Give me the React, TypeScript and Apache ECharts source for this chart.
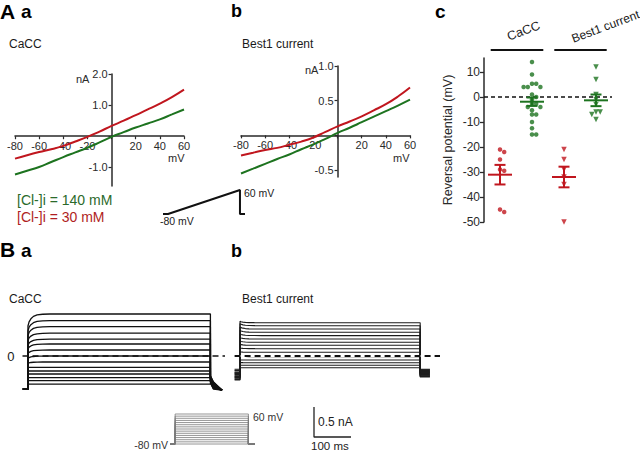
import React, { useEffect, useRef } from "react";
import * as echarts from "echarts";

const FONT = "'Liberation Sans', Arial, Helvetica, sans-serif";
const RED = "#c0161e";
const GREEN = "#1d731f";
const AX = "#2a2a2a";
const INK = "#1a1a1a";

// ---------- A: current–voltage relations (ramp) ----------
const ivVoltage = [-80, -70, -60, -50, -40, -30, -20, -10, 0, 10, 20, 30, 40, 50, 60];
const caccIV140 = [-1.23, -1.11, -0.99, -0.83, -0.67, -0.52, -0.37, -0.2, -0.02, 0.13, 0.28, 0.41, 0.54, 0.7, 0.86];
const caccIV30 = [-0.72, -0.61, -0.51, -0.42, -0.31, -0.17, -0.02, 0.15, 0.33, 0.5, 0.68, 0.86, 1.05, 1.26, 1.5];
const best1IV140 = [-0.55, -0.48, -0.41, -0.34, -0.275, -0.2, -0.13, -0.05, 0.035, 0.11, 0.19, 0.27, 0.35, 0.43, 0.515];
const best1IV30 = [-0.29, -0.25, -0.21, -0.18, -0.135, -0.09, -0.03, 0.05, 0.13, 0.2, 0.275, 0.36, 0.45, 0.56, 0.69];
const caccYTicks = [-1, 0, 1, 2];
const caccYLabels = [-1, 1, 2];
const best1YTicks = [-0.5, 0, 0.5, 1];
const best1YLabels = [-0.5, 0.5, 1];

// ramp protocol (ms, mV)
const rampTime = [-70, 0, 1000, 1000, 1070];
const rampVoltage = [-80, -80, 60, -80, -80];

// ---------- B: current traces (ms, nA) ----------
const stepVoltages = [-80, -70, -60, -50, -40, -30, -20, -10, 0, 10, 20, 30, 40, 50, 60];
const caccHolding = -0.55;
const caccInitial = [-0.47, -0.41, -0.36, -0.3, -0.25, -0.19, -0.12, -0.04, 0.04, 0.12, 0.18, 0.26, 0.34, 0.42, 0.5];
const caccSteady = [-0.47, -0.41, -0.36, -0.3, -0.25, -0.19, -0.1, 0.0, 0.1, 0.2, 0.28, 0.38, 0.49, 0.59, 0.7];
const caccTailStart = [-0.45, -0.44, -0.43, -0.42, -0.41, -0.4, -0.39, -0.38, -0.37, -0.36, -0.35, -0.35, -0.34, -0.34, -0.33];
const caccTailEnd = -0.57;
const activationTimes = [0, 3, 8, 15, 25, 40, 60];
const activationFraction = [0, 0.35, 0.6, 0.8, 0.92, 0.98, 1];

const best1Holding = [-0.4, -0.39, -0.37, -0.36, -0.35, -0.34, -0.33, -0.31, -0.3, -0.29, -0.28, -0.27, -0.25, -0.24, -0.22];
const best1Initial = [-0.195, -0.155, -0.11, -0.065, -0.005, 0.07, 0.135, 0.195, 0.25, 0.31, 0.37, 0.43, 0.485, 0.54, 0.58];
const best1Steady = [-0.195, -0.155, -0.112, -0.067, -0.01, 0.062, 0.122, 0.178, 0.228, 0.283, 0.34, 0.395, 0.45, 0.505, 0.555];
const best1Tail = [-0.35, -0.34, -0.33, -0.32, -0.31, -0.3, -0.29, -0.28, -0.27, -0.27, -0.26, -0.25, -0.24, -0.23, -0.22];

// scale bar (ms, nA)
const scaleBarTime = [0, 0, 100];
const scaleBarCurrent = [0.5, 0, 0];

// ---------- c: reversal potentials (mV) ----------
const revCaccLow = [-21, -22, -25, -29, -29.5, -45, -46];
const revCaccHigh = [14, 9, 5.3, 5.3, 4, 4, 4, 1, 0, -1, -2.7, -2.7, -4, -4, -5.3, -7, -7, -10, -12.5, -15, -15];
const revBest1Low = [-21, -25, -29, -32, -35, -50];
const revBest1High = [12, 7, 1, -1, -3, -6, -6, -7, -9];
const revTicks = [-50, -40, -30, -20, -10, 0, 10];

function meanSem(v: number[]) {
  const n = v.length;
  const m = v.reduce((a, b) => a + b, 0) / n;
  const sd = Math.sqrt(v.reduce((a, b) => a + (b - m) * (b - m), 0) / (n - 1));
  return [m, sd / Math.sqrt(n)];
}

// beeswarm placement: spread points horizontally so they do not overlap
function swarm(values: number[], center: number) {
  const pxY = 2.5, pxX = 32, step = 4.2, minDist = 4.0;
  const order = values.map((_, i) => i).sort((a, b) => values[b] - values[a]);
  const placed: { x: number; y: number }[] = [];
  const out: number[][] = new Array(values.length);
  for (const i of order) {
    const y = values[i] * pxY;
    const cands = [0];
    for (let k = 1; k < 8; k++) cands.push(k * step, -k * step);
    let chosen = 0;
    for (const c of cands) {
      if (placed.every((p) => Math.hypot(p.x - c, p.y - y) >= minDist)) { chosen = c; break; }
    }
    placed.push({ x: chosen, y });
    out[i] = [center + chosen / pxX, values[i]];
  }
  return out;
}

function caccTrace(i: number) {
  const pts: number[][] = [[-14, caccHolding], [0, caccHolding]];
  activationTimes.forEach((t, k) => pts.push([t, caccInitial[i] + (caccSteady[i] - caccInitial[i]) * activationFraction[k]]));
  pts.push([500, caccSteady[i]], [500, caccTailStart[i]], [508, caccTailStart[i] - 0.1], [532, caccTailEnd]);
  return pts;
}

function best1Trace(i: number) {
  const pts: number[][] = [[-15, best1Holding[i]], [0, best1Holding[i]]];
  activationTimes.forEach((t, k) => pts.push([t, best1Initial[i] + (best1Steady[i] - best1Initial[i]) * activationFraction[k]]));
  pts.push([500, best1Steady[i]], [500, best1Tail[i]], [527, best1Tail[i]]);
  return pts;
}

function text(t: string, x: number, y: number, size: number, opts: any = {}) {
  return {
    type: "text", x, y, rotation: opts.rotation || 0, z: 20,
    style: {
      text: t, fontSize: size, fontFamily: FONT, fontWeight: opts.bold ? "bold" : "normal",
      fill: opts.color || INK, align: opts.align || "left", verticalAlign: "middle",
    },
  };
}

// IV grid geometry
const ivGrids = [
  { left: 15, top: 74, width: 169, height: 112, ymin: -1.6, ymax: 2.0 },
  { left: 241, top: 66, width: 169, height: 111, ymin: -0.6, ymax: 1.0 },
];

function buildOption() {
  const ivX = (gi: number) => {
    const g = ivGrids[gi];
    const zeroOffset = g.height * (0 - g.ymin) / (g.ymax - g.ymin);
    return {
      type: "value", gridIndex: gi, min: -80, max: 60, interval: 20, position: "bottom", offset: -zeroOffset,
      axisLine: { onZero: false, lineStyle: { color: AX, width: 1.5 } },
      axisTick: { show: true, length: 3, lineStyle: { color: AX, width: 1.2 } },
      axisLabel: { fontSize: 11, color: AX, margin: 4, fontFamily: FONT, formatter: (v: number) => (v === 0 ? "" : String(v)) },
      splitLine: { show: false },
    };
  };
  const ivY = (gi: number, ticks: number[], labels: number[]) => {
    const g = ivGrids[gi];
    const zeroOffset = g.width * 80 / 140;
    return {
      type: "value", gridIndex: gi, min: g.ymin, max: g.ymax, position: "left", offset: -zeroOffset,
      axisLine: { onZero: false, lineStyle: { color: AX, width: 1.5 } },
      axisTick: { show: true, length: 3, customValues: ticks, lineStyle: { color: AX, width: 1.2 } },
      axisLabel: { customValues: labels, fontSize: 11, color: AX, margin: 4, fontFamily: FONT, formatter: (v: number) => v.toFixed(1) },
      splitLine: { show: false },
    };
  };
  const hidden = (gi: number, min: number, max: number) => ({ type: "value", gridIndex: gi, min, max, show: false });

  const ivLine = (gi: number, vals: number[], color: string) => ({
    type: "line", xAxisIndex: gi, yAxisIndex: gi, data: ivVoltage.map((v, i) => [v, vals[i]]),
    smooth: true, showSymbol: false, clip: false, lineStyle: { color, width: 2 }, silent: true,
  });

  const series: any[] = [
    ivLine(0, caccIV140, GREEN), ivLine(0, caccIV30, RED),
    ivLine(1, best1IV140, GREEN), ivLine(1, best1IV30, RED),
    {
      type: "line", xAxisIndex: 2, yAxisIndex: 2, data: rampTime.map((t, i) => [t, rampVoltage[i]]),
      showSymbol: false, clip: false, lineStyle: { color: "#111", width: 2 },
    },
  ];

  // panel c
  const groups = [
    { vals: revCaccLow, c: 1, color: RED, sym: "circle", rot: 0 },
    { vals: revCaccHigh, c: 2, color: GREEN, sym: "circle", rot: 0 },
    { vals: revBest1Low, c: 3, color: RED, sym: "triangle", rot: 180 },
    { vals: revBest1High, c: 4, color: GREEN, sym: "triangle", rot: 180 },
  ];
  groups.forEach((g, gi) => {
    const s: any = {
      type: "scatter", xAxisIndex: 3, yAxisIndex: 3, data: swarm(g.vals, g.c),
      symbol: g.sym, symbolRotate: g.rot, symbolSize: g.sym === "circle" ? 4.5 : 5.5,
      itemStyle: { color: g.color }, silent: true,
    };
    if (gi === 1) {
      s.markLine = {
        silent: true, symbol: ["none", "none"], label: { show: false }, z: 1,
        lineStyle: { color: "#111", type: [4, 3], width: 1.5 }, data: [{ yAxis: 0 }],
      };
    }
    series.push(s);
    const [m, sem] = meanSem(g.vals);
    series.push({
      type: "custom", xAxisIndex: 3, yAxisIndex: 3, data: [[g.c, m, sem]], silent: true, z: 4,
      renderItem: (params: any, api: any) => {
        const c = api.coord([api.value(0), api.value(1)]);
        const top = api.coord([api.value(0), api.value(1) + api.value(2)]);
        const bot = api.coord([api.value(0), api.value(1) - api.value(2)]);
        const style = { stroke: g.color, lineWidth: 2 };
        return {
          type: "group",
          children: [
            { type: "line", shape: { x1: c[0] - 12, y1: c[1], x2: c[0] + 12, y2: c[1] }, style },
            { type: "line", shape: { x1: c[0], y1: top[1], x2: c[0], y2: bot[1] }, style },
            { type: "line", shape: { x1: c[0] - 5.5, y1: top[1], x2: c[0] + 5.5, y2: top[1] }, style },
            { type: "line", shape: { x1: c[0] - 5.5, y1: bot[1], x2: c[0] + 5.5, y2: bot[1] }, style },
          ],
        };
      },
    });
  });

  // panel B traces
  stepVoltages.forEach((_, i) => {
    const s: any = {
      type: "line", xAxisIndex: 4, yAxisIndex: 4, data: caccTrace(i), showSymbol: false, clip: false,
      lineStyle: { color: "#111", width: 1.3 }, silent: true,
    };
    if (i === 0) {
      s.markLine = {
        silent: true, symbol: ["none", "none"], z: 6,
        label: { show: true, position: "start", formatter: "0", distance: 8, fontSize: 13, color: INK, fontFamily: FONT },
        lineStyle: { color: "#111", type: [6, 4], width: 1.5 }, data: [{ yAxis: 0 }],
      };
    }
    series.push(s);
  });
  stepVoltages.forEach((_, i) => {
    const s: any = {
      type: "line", xAxisIndex: 5, yAxisIndex: 5, data: best1Trace(i), showSymbol: false, clip: false,
      lineStyle: { color: "#1c1c1c", width: 1.1 }, silent: true,
    };
    if (i === 0) {
      s.markLine = {
        silent: true, symbol: ["none", "none"], z: 5, label: { show: false },
        lineStyle: { color: "#ffffff", type: "solid", width: 2 }, data: [{ yAxis: 0 }],
      };
    }
    if (i === 1) {
      s.markLine = {
        silent: true, symbol: ["none", "none"], z: 6, label: { show: false },
        lineStyle: { color: "#111", type: [6, 4], width: 2 }, data: [{ yAxis: 0 }],
      };
    }
    series.push(s);
  });

  // step protocol
  stepVoltages.forEach((v) => {
    series.push({
      type: "line", xAxisIndex: 6, yAxisIndex: 6,
      data: [[-35, -80], [0, -80], [0, v], [500, v], [500, -80], [545, -80]],
      showSymbol: false, clip: false, lineStyle: { color: "#7a7a7a", width: 0.8 }, silent: true,
    });
  });

  // scale bar
  series.push({
    type: "line", xAxisIndex: 7, yAxisIndex: 7, data: scaleBarTime.map((t, i) => [t, scaleBarCurrent[i]]),
    showSymbol: false, clip: false, lineStyle: { color: "#222", width: 1.3 }, silent: true,
  });

  const graphic: any[] = [
    text("A", 0, 11, 21, { bold: true, color: "#000" }),
    text("a", 21, 11, 19, { bold: true, color: "#000" }),
    text("b", 231, 11, 18, { bold: true, color: "#000" }),
    text("c", 435, 11, 19, { bold: true, color: "#000" }),
    text("B", 0, 249, 21, { bold: true, color: "#000" }),
    text("a", 21, 250, 19, { bold: true, color: "#000" }),
    text("b", 231, 250.5, 18, { bold: true, color: "#000" }),
    text("CaCC", 9, 43.8, 12),
    text("Best1 current", 242, 43.8, 12),
    text("CaCC", 9, 299, 12),
    text("Best1 current", 242, 299, 12),
    text("nA", 76, 79, 11, { color: AX }),
    text("mV", 168, 157.5, 11, { color: AX }),
    text("nA", 305, 70, 11, { color: AX }),
    text("mV", 393, 157.5, 11, { color: AX }),
    text("[Cl-]i = 140 mM", 17, 200, 14, { color: "#2b6a2b" }),
    text("[Cl-]i = 30 mM", 17, 216.7, 14, { color: "#b01e23" }),
    text("-80 mV", 160, 221, 10.5, { color: "#222" }),
    text("60 mV", 244, 193, 10.5, { color: "#222" }),
    text("-80 mV", 168, 444.5, 10.5, { color: "#333", align: "right" }),
    text("60 mV", 253, 417, 10.5, { color: "#333" }),
    text("0.5 nA", 318, 422, 12, { color: "#222" }),
    text("100 ms", 311, 445.5, 11.5, { color: "#222" }),
    text("CaCC", 523.6, 31, 12.5, { align: "center", rotation: 0.36 }),
    text("Best1 current", 605.5, 26.5, 12, { align: "center", rotation: 0.36 }),
    { type: "line", z: 20, shape: { x1: 490.7, y1: 50, x2: 543.3, y2: 50 }, style: { stroke: "#111", lineWidth: 2 } },
    { type: "line", z: 20, shape: { x1: 554.3, y1: 50, x2: 606.7, y2: 50 }, style: { stroke: "#111", lineWidth: 2 } },
  ];

  return {
    animation: false,
    backgroundColor: "#ffffff",
    textStyle: { fontFamily: FONT },
    grid: [
      { left: ivGrids[0].left, top: ivGrids[0].top, width: ivGrids[0].width, height: ivGrids[0].height },
      { left: ivGrids[1].left, top: ivGrids[1].top, width: ivGrids[1].width, height: ivGrids[1].height },
      { left: 163, top: 190, width: 82, height: 24 },
      { left: 484, top: 58, width: 128, height: 164 },
      { left: 22.5, top: 296, width: 202.5, height: 120 },
      { left: 234.6, top: 296, width: 205.4, height: 120 },
      { left: 170, top: 414, width: 85, height: 30 },
      { left: 314, top: 407, width: 37, height: 30 },
    ],
    xAxis: [
      ivX(0), ivX(1), hidden(2, -70, 1070), hidden(3, 0.5, 4.5),
      hidden(4, -15, 540), hidden(5, -15, 555), hidden(6, -35, 545), hidden(7, 0, 100),
    ],
    yAxis: [
      ivY(0, caccYTicks, caccYLabels),
      ivY(1, best1YTicks, best1YLabels),
      hidden(2, -80, 60),
      {
        type: "value", gridIndex: 3, min: -50, max: 15.6,
        axisLine: { show: true, onZero: false, lineStyle: { color: AX, width: 1.5 } },
        axisTick: { show: true, length: 4, customValues: revTicks, lineStyle: { color: AX, width: 1.3 } },
        axisLabel: { customValues: revTicks, fontSize: 12, color: AX, margin: 4, fontFamily: FONT },
        splitLine: { show: false },
        name: "Reversal potential (mV)", nameLocation: "middle", nameGap: 30,
        nameTextStyle: { fontSize: 12.5, color: AX, fontFamily: FONT },
      },
      hidden(4, -1, 1), hidden(5, -1, 1), hidden(6, -80, 60), hidden(7, 0, 0.5),
    ],
    series,
    graphic,
  };
}

export default function App() {
  const ref = useRef<HTMLDivElement>(null);
  useEffect(() => {
    const chart = echarts.init(ref.current!, null, { renderer: "svg" });
    chart.setOption(buildOption() as any);
    return () => chart.dispose();
  }, []);
  return (
    <div
      ref={ref}
      style={{ position: "fixed", left: 0, top: 0, width: 640, height: 452, background: "#fff" }}
    />
  );
}
